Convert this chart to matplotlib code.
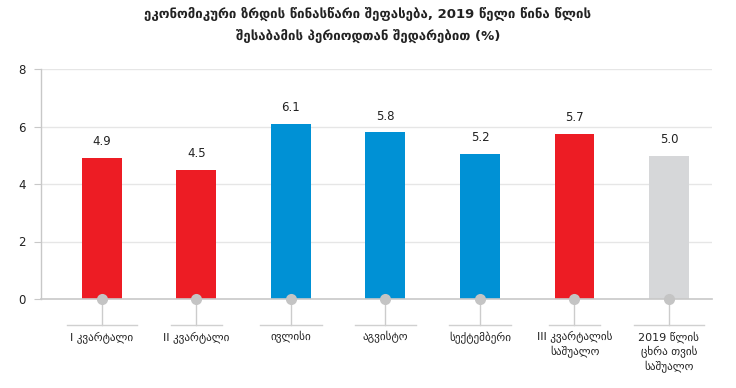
import matplotlib
matplotlib.use("Agg")
import matplotlib.pyplot as plt

categories = ["I კვარტალი", "II კვარტალი", "ივლისი", "აგვისტო", "სექტემბერი",
              "III კვარტალის\nსაშუალო", "2019 წლის\nცხრა თვის\nსაშუალო"]
bar_heights = [4.9, 4.5, 6.1, 5.8, 5.05, 5.75, 4.98]
value_labels = ["4.9", "4.5", "6.1", "5.8", "5.2", "5.7", "5.0"]
bar_colors = ["#ed1c24", "#ed1c24", "#0091d5", "#0091d5", "#0091d5", "#ed1c24", "#d6d7d9"]
bracket_widths = [0.74, 0.53, 0.65, 0.65, 0.65, 0.53, 0.74]
yticks = [0, 2, 4, 6, 8]
title = "ეკონომიკური ზრდის წინასწარი შეფასება, 2019 წელი წინა წლის\nშესაბამის პერიოდთან შედარებით (%)"

plt.rcParams['font.family'] = ['DejaVu Sans']

fig = plt.figure(figsize=(7.36, 3.88), dpi=100)
ax = fig.add_axes([41/736, 89/388, 671/736, 230/388])

x = list(range(len(categories)))
ax.bar(x, bar_heights, width=0.423, color=bar_colors, zorder=2)

for xi, h, lab in zip(x, bar_heights, value_labels):
    ax.annotate(lab, (xi, h), xytext=(0, 7), textcoords="offset points",
                ha="center", va="bottom", fontsize=8.5, color="#222222")

ax.set_xlim(-0.645, 6.455)
ax.set_ylim(0, 8)
ax.set_yticks(yticks)
ax.set_yticklabels([str(t) for t in yticks], fontsize=8.5, color="#222222")
ax.tick_params(axis="y", length=5, color="#c8c8c8", pad=6)
ax.set_xticks([])

for t in yticks[1:]:
    ax.axhline(t, color="#e6e6e6", lw=1, zorder=1)

for s in ["top", "right"]:
    ax.spines[s].set_visible(False)
ax.spines["left"].set_color("#c8c8c8")
ax.spines["bottom"].set_color("#c8c8c8")
ax.spines["left"].set_linewidth(1)
ax.spines["bottom"].set_linewidth(1.2)

ydrop = -26 / 28.75
for xi, bw, cat in zip(x, bracket_widths, categories):
    ax.plot([xi, xi], [0, ydrop], color="#cccccc", lw=1, clip_on=False, zorder=3)
    ax.plot([xi - bw/2, xi + bw/2], [ydrop, ydrop], color="#d0d0d0", lw=1, clip_on=False, zorder=3)
    ax.plot([xi], [0], marker="o", ms=8, color="#c4c4c4", clip_on=False, zorder=4, mec="none")
    ax.text(xi, ydrop - 0.22, cat, ha="center", va="top", fontsize=8,
            color="#222222", linespacing=1.3)

fig.text(0.5, 1 - 25/388, title, ha="center", va="center", fontsize=9.5,
         fontweight="bold", color="#222222", linespacing=1.75)

fig.savefig("out.png", dpi=100, facecolor="white")
